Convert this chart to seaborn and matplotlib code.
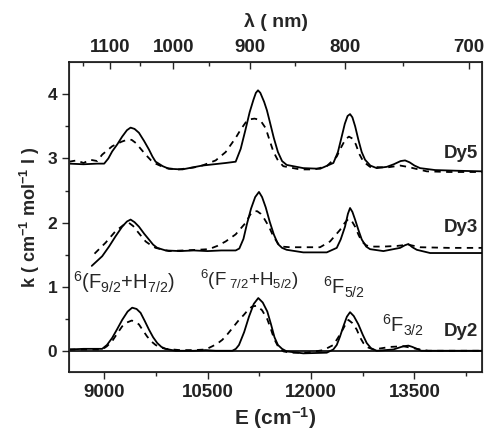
import numpy as np
import pandas as pd
import matplotlib
matplotlib.use('Agg')
import matplotlib.pyplot as plt
import seaborn as sns

dy5_E = [8490, 8700, 8900, 9000, 9060, 9116, 9190, 9261, 9330, 9383, 9440, 9504, 9580, 9649, 9700, 9746,
         9850, 9939, 10132, 10422, 10762, 10907, 10980, 11050, 11110, 11164, 11200, 11231, 11265, 11320,
         11360, 11400, 11460, 11520, 11580, 11647, 11888, 12131, 12324, 12390, 12445, 12490, 12530, 12566,
         12600, 12640, 12687, 12735, 12784, 12860, 12953, 13099, 13200, 13300, 13364, 13430, 13500, 13582,
         13800, 14100, 14480]
dy5_k = [2.92, 2.91, 2.92, 2.92, 3.00, 3.11, 3.22, 3.34, 3.44, 3.48, 3.46, 3.40, 3.27, 3.14, 3.03, 2.95,
         2.88, 2.84, 2.83, 2.89, 2.93, 2.95, 3.15, 3.45, 3.72, 3.91, 4.02, 4.06, 4.02, 3.88,
         3.75, 3.58, 3.32, 3.10, 2.96, 2.90, 2.85, 2.84, 2.93, 3.10, 3.34, 3.54, 3.66, 3.69,
         3.64, 3.50, 3.29, 3.10, 2.98, 2.89, 2.85, 2.87, 2.91, 2.96, 2.97, 2.94, 2.89, 2.85,
         2.82, 2.81, 2.80]
dy5_fit_E = [8490, 8600, 8700, 8800, 8900, 8971, 9116, 9250, 9330, 9398, 9460, 9530, 9601, 9680, 9746, 9891,
             10080, 10300, 10422, 10617, 10762, 10907, 10980, 11052, 11120, 11180, 11220, 11280, 11343, 11400,
             11453, 11520, 11598, 11840, 12050, 12228, 12373, 12440, 12500, 12550, 12600, 12650, 12700, 12760,
             12856, 13099, 13292, 13400, 13679, 14000, 14480]
dy5_fit_k = [2.95, 2.97, 2.93, 2.98, 2.96, 3.06, 3.19, 3.26, 3.29, 3.29, 3.24, 3.15, 3.06, 2.97, 2.92, 2.85,
             2.83, 2.86, 2.89, 2.97, 3.10, 3.32, 3.45, 3.56, 3.61, 3.62, 3.61, 3.57, 3.47, 3.28,
             3.11, 2.97, 2.88, 2.83, 2.83, 2.88, 3.03, 3.18, 3.30, 3.34, 3.31, 3.22, 3.07, 2.95,
             2.87, 2.86, 2.89, 2.87, 2.80, 2.79, 2.79]

dy3_E = [8820, 8971, 9070, 9165, 9261, 9330, 9383, 9440, 9504, 9580, 9649, 9710, 9770, 9891, 10100, 10300,
         10500, 10700, 10907, 10960, 11020, 11070, 11130, 11190, 11245, 11290, 11343, 11400, 11460, 11520,
         11580, 11647, 11888, 12228, 12373, 12430, 12493, 12535, 12566, 12600, 12639, 12690, 12736, 12800,
         12856, 13050, 13292, 13360, 13412, 13470, 13534, 13727, 14000, 14480]
dy3_k = [1.33, 1.48, 1.63, 1.79, 1.94, 2.02, 2.05, 2.01, 1.94, 1.83, 1.74, 1.66, 1.61, 1.57, 1.56, 1.57,
         1.56, 1.57, 1.57, 1.60, 1.75, 1.98, 2.22, 2.40, 2.48, 2.40, 2.24, 2.02, 1.82, 1.67,
         1.61, 1.58, 1.54, 1.54, 1.61, 1.74, 1.94, 2.14, 2.23, 2.17, 2.05, 1.88, 1.74, 1.63,
         1.59, 1.56, 1.61, 1.65, 1.67, 1.62, 1.58, 1.53, 1.53, 1.53]
dy3_fit_E = [8860, 9020, 9165, 9286, 9358, 9420, 9479, 9540, 9601, 9680, 9746, 9940, 10150, 10350, 10519,
             10640, 10762, 10907, 11052, 11120, 11173, 11220, 11270, 11318, 11390, 11453, 11520, 11574, 11695,
             11900, 12131, 12276, 12421, 12490, 12542, 12590, 12639, 12690, 12736, 12800, 12856, 13050, 13244,
             13412, 13582, 14000, 14480]
dy3_fit_k = [1.52, 1.69, 1.87, 1.97, 2.00, 1.95, 1.87, 1.79, 1.71, 1.65, 1.61, 1.56, 1.57, 1.58, 1.59,
             1.64, 1.71, 1.82, 2.00, 2.13, 2.18, 2.18, 2.14, 2.07, 1.94, 1.79, 1.68, 1.63, 1.62,
             1.62, 1.62, 1.71, 1.89, 2.00, 2.06, 2.03, 1.94, 1.81, 1.71, 1.65, 1.63, 1.63, 1.64,
             1.66, 1.62, 1.61, 1.61]

dy2_E = [8490, 8700, 8900, 8971, 9040, 9116, 9190, 9261, 9340, 9406, 9470, 9528, 9590, 9649, 9710, 9770,
         9830, 9891, 10036, 10300, 10472, 10617, 10858, 10910, 10955, 11030, 11100, 11170, 11235, 11300,
         11366, 11420, 11470, 11520, 11580, 11647, 11889, 12228, 12323, 12373, 12420, 12469, 12520, 12566,
         12620, 12687, 12750, 12808, 12870, 12953, 13195, 13280, 13340, 13412, 13470, 13534, 13600, 14000,
         14480]
dy2_k = [0.03, 0.04, 0.04, 0.04, 0.10, 0.21, 0.35, 0.49, 0.62, 0.68, 0.66, 0.60, 0.47, 0.34, 0.22, 0.13,
         0.07, 0.04, 0.01, 0.01, 0.02, 0.01, 0.01, 0.04, 0.10, 0.30, 0.54, 0.74, 0.83, 0.76,
         0.62, 0.42, 0.22, 0.10, 0.04, 0.00, -0.03, -0.02, 0.03, 0.10, 0.23, 0.39, 0.54, 0.61,
         0.55, 0.42, 0.26, 0.13, 0.05, 0.01, 0.03, 0.06, 0.08, 0.09, 0.07, 0.04, 0.01, 0.01,
         0.01]
dy2_fit_E = [8490, 8700, 8971, 9040, 9116, 9190, 9261, 9330, 9400, 9450, 9504, 9560, 9624, 9690, 9746, 9820,
             9891, 10100, 10300, 10472, 10568, 10640, 10713, 10790, 10858, 10940, 11027, 11090, 11148, 11215,
             11290, 11366, 11420, 11463, 11530, 11600, 11700, 11937, 12179, 12324, 12390, 12445, 12500, 12542,
             12600, 12663, 12710, 12759, 12830, 12905, 13147, 13340, 13534, 13700, 14000, 14480]
dy2_fit_k = [0.03, 0.03, 0.03, 0.08, 0.16, 0.28, 0.39, 0.45, 0.48, 0.46, 0.42, 0.33, 0.23, 0.15, 0.10, 0.06,
             0.04, 0.02, 0.02, 0.03, 0.08, 0.12, 0.18, 0.27, 0.36, 0.47, 0.57, 0.65, 0.70, 0.71,
             0.64, 0.50, 0.34, 0.20, 0.06, 0.00, -0.02, -0.02, 0.02, 0.10, 0.21, 0.31, 0.42, 0.49,
             0.44, 0.34, 0.22, 0.13, 0.06, 0.03, 0.07, 0.08, 0.04, 0.01, 0.01, 0.01]

lam_ticks = [1100, 1000, 900, 800, 700]
lam_minor = [1150, 1050, 950, 850, 750]
E_ticks = [9000, 10500, 12000, 13500]
k_ticks = [0, 1, 2, 3, 4]

sns.set_style('ticks')
plt.rcParams['font.family'] = ['Liberation Sans', 'DejaVu Sans']
plt.rcParams['mathtext.fontset'] = 'custom'
plt.rcParams['mathtext.rm'] = 'Liberation Sans'
plt.rcParams['mathtext.it'] = 'Liberation Sans:italic'
plt.rcParams['mathtext.bf'] = 'Liberation Sans:bold'

fig = plt.figure(figsize=(4.84, 4.38), dpi=100)
ax = fig.add_axes([0.1426, 0.1507, 0.8533, 0.7077])

curves = [(dy5_E, dy5_k, False), (dy5_fit_E, dy5_fit_k, True),
          (dy3_E, dy3_k, False), (dy3_fit_E, dy3_fit_k, True),
          (dy2_E, dy2_k, False), (dy2_fit_E, dy2_fit_k, True)]
for xs, ys, dashed in curves:
    sns.lineplot(x=xs, y=ys, ax=ax, color='black', sort=False, lw=1.3,
                 linestyle=(0, (3.5, 3)) if dashed else '-')

ax.axhline(0, color='black', lw=1.2)

ax.set_xlim(8490, 14480)
ax.set_ylim(-0.32, 4.5)
ax.set_xticks(E_ticks)
ax.set_xticks([9750, 11250, 12750, 14250], minor=True)
ax.set_yticks(k_ticks)
ax.set_yticks([0.5, 1.5, 2.5, 3.5], minor=True)
ax.set_xticklabels([str(t) for t in E_ticks], fontsize=13.5, fontweight='bold', color='#222222')
ax.set_yticklabels([str(t) for t in k_ticks], fontsize=12.5, fontweight='bold', color='#222222')
ax.tick_params(which='major', direction='out', length=5, width=1)
ax.tick_params(which='minor', direction='out', length=3, width=1)
ax.tick_params(axis='y', which='both', right=False)
for s in ax.spines.values():
    s.set_linewidth(1.1)
    s.set_color('black')

ax.set_xlabel('E (cm$^{\\mathbf{-1}}$)', fontsize=15, fontweight='bold', labelpad=3)
ax.set_ylabel('k ( cm$^{\\mathbf{-1}}$ mol$^{\\mathbf{-1}}$ l )', fontsize=13, fontweight='bold', labelpad=4)

ax2 = ax.twiny()
ax2.set_xlim(ax.get_xlim())
ax2.set_xticks([1e7 / l for l in lam_ticks])
ax2.set_xticks([1e7 / l for l in lam_minor], minor=True)
ax2.set_xticklabels([str(l) for l in lam_ticks], fontsize=13.5, fontweight='bold', color='#222222')
ax2.tick_params(which='major', direction='in', length=5, width=1, pad=4)
ax2.tick_params(which='minor', direction='in', length=3, width=1)
ax2.set_xlabel('λ ( nm)', fontsize=14, fontweight='bold', labelpad=9)

for name, yk in [('Dy5', 3.07), ('Dy3', 1.92), ('Dy2', 0.31)]:
    ax.text(14180, yk, name, fontsize=13.5, fontweight='bold', ha='center', va='center')

ax.text(8546, 0.98, '$^6$(F$_{9/2}$+H$_{7/2}$)', fontsize=14.5, ha='left', va='baseline')
ax.text(10390, 1.02, '$^6$(F$_{\\ 7/2}$+H$_{5/2}$)', fontsize=13.5, ha='left', va='baseline')
ax.text(12179, 0.88, '$^6$F$_{5/2}$', fontsize=14.5, ha='left', va='baseline')
ax.text(13026, 0.29, '$^6$F$_{3/2}$', fontsize=14.5, ha='left', va='baseline')

fig.savefig('out.png', dpi=100)
